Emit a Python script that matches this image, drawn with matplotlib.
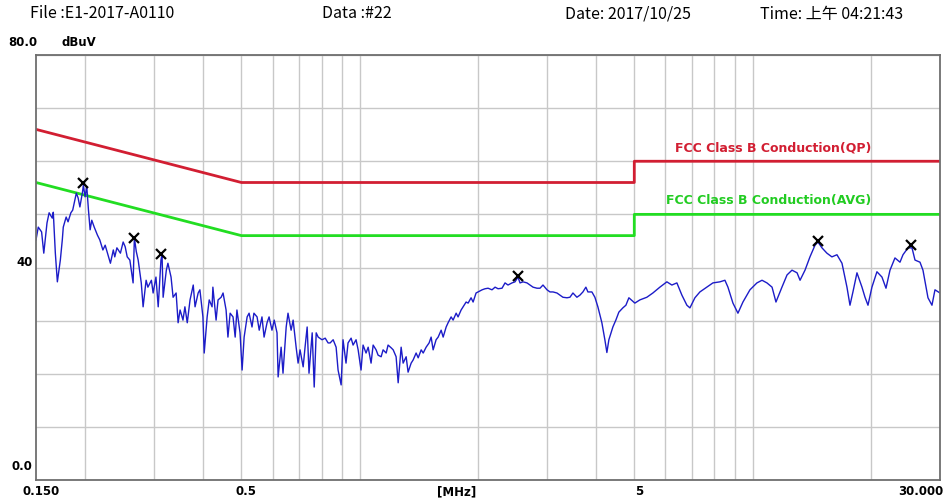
import matplotlib
matplotlib.use("Agg")
import matplotlib.pyplot as plt
import matplotlib.transforms as mtransforms

plt.rcParams['font.family'] = ['Liberation Sans Narrow', 'Noto Sans CJK TC', 'DejaVu Sans']

# measured trace (MHz, dBuV)
freq = [0.150, 0.152, 0.155, 0.157, 0.160, 0.162, 0.165, 0.166, 0.168, 0.170,
        0.173, 0.175, 0.176, 0.179, 0.181, 0.184, 0.186, 0.190, 0.192, 0.194,
        0.197, 0.198, 0.200, 0.202, 0.204, 0.206, 0.208, 0.211, 0.215, 0.218,
        0.222, 0.225, 0.228, 0.232, 0.236, 0.238, 0.241, 0.246, 0.250, 0.253,
        0.256, 0.260, 0.265, 0.267, 0.270, 0.273, 0.278, 0.281, 0.286, 0.289,
        0.295, 0.298, 0.303, 0.307, 0.312, 0.314, 0.316, 0.322, 0.325, 0.331,
        0.335, 0.341, 0.345, 0.349, 0.355, 0.359, 0.364, 0.370, 0.377, 0.381,
        0.388, 0.392, 0.399, 0.402, 0.409, 0.414, 0.421, 0.423, 0.431, 0.436,
        0.444, 0.449, 0.457, 0.462, 0.468, 0.476, 0.482, 0.487, 0.496, 0.502,
        0.508, 0.517, 0.523, 0.532, 0.538, 0.548, 0.555, 0.564, 0.571, 0.581,
        0.588, 0.598, 0.606, 0.616, 0.620, 0.631, 0.638, 0.650, 0.657, 0.669,
        0.677, 0.689, 0.697, 0.705, 0.718, 0.726, 0.735, 0.743, 0.757, 0.766,
        0.775, 0.784, 0.802, 0.817, 0.831,
        0.841, 0.856, 0.871, 0.881, 0.897, 0.907, 0.923, 0.934, 0.951, 0.962,
        0.979, 0.991, 1.008, 1.020, 1.038, 1.051, 1.069, 1.082, 1.101, 1.114,
        1.134, 1.147, 1.168, 1.181, 1.202, 1.217, 1.238, 1.253, 1.275, 1.290,
        1.313, 1.328, 1.352, 1.368, 1.392, 1.409, 1.434, 1.451, 1.476, 1.502,
        1.520, 1.538, 1.565, 1.584, 1.612, 1.631, 1.660, 1.679, 1.709, 1.729,
        1.760, 1.780, 1.812, 1.833, 1.866, 1.888, 1.921, 1.944, 1.978, 2.001,
        2.049, 2.085, 2.122, 2.172, 2.211, 2.250, 2.303, 2.344, 2.385, 2.442,
        2.485, 2.529, 2.559, 2.605, 2.666, 2.714, 2.762, 2.827, 2.877, 2.928,
        2.998, 3.051, 3.105, 3.178, 3.234, 3.291, 3.370, 3.429, 3.490, 3.572,
        3.636, 3.700, 3.765, 3.810, 3.900, 3.969, 4.039, 4.135, 4.208, 4.258,
        4.308, 4.410, 4.488, 4.568, 4.676, 4.760, 4.844,
        5.017, 5.166, 5.382, 5.575, 5.809, 6.052, 6.232, 6.418, 6.609, 6.805,
        6.927, 7.133, 7.345, 7.652, 7.927, 8.259, 8.505, 8.657, 8.914, 9.179,
        9.452, 9.849, 10.26, 10.57, 10.88, 11.21, 11.47, 11.88, 12.24, 12.60,
        12.98, 13.21, 13.60, 14.00, 14.42, 14.67, 15.02, 15.46, 15.92, 16.40,
        16.89, 17.39, 17.70, 18.01, 18.44, 18.99, 19.33, 19.67, 20.13, 20.73,
        21.35, 21.86, 22.38, 23.04, 23.73, 24.15, 24.87, 25.46, 25.91, 26.68,
        27.15, 27.96, 28.62, 29.13, 30.0]
level = [45.2, 47.6, 46.7, 42.7, 48.4, 50.3, 49.3, 50.4, 42.7, 37.3,
         41.4, 45.2, 47.6, 49.5, 48.6, 50.3, 50.8, 54.0, 53.1, 51.4,
         54.2, 55.5, 53.3, 55.2, 50.8, 47.1, 48.9, 47.6, 46.1, 45.2,
         43.3, 44.2, 42.7, 40.8, 43.3, 42.0, 43.7, 42.7, 44.8, 43.9,
         42.0, 41.4, 37.1, 45.6, 43.0, 41.4, 37.1, 32.6, 37.6, 36.3,
         37.6, 35.2, 38.2, 32.6, 41.4, 42.4, 34.4, 39.5, 40.8, 38.2,
         34.4, 35.2, 29.6, 32.0, 30.1, 32.6, 29.6, 33.9, 36.7, 32.6,
         35.2, 35.8, 30.7, 23.9, 30.7, 33.9, 32.6, 36.3, 30.1, 33.9,
         34.4, 35.2, 32.0, 26.9, 31.4, 30.7, 26.9, 32.0, 27.7, 20.7,
         26.9, 30.7, 31.4, 28.8, 31.4, 30.7, 28.2, 30.7, 26.9, 29.6,
         30.7, 28.2, 30.1, 27.7, 19.4, 25.0, 20.1, 28.8, 31.4, 28.2,
         30.1, 25.0, 22.0, 24.5, 21.3, 25.0, 28.8, 20.1, 27.7, 17.5,
         27.7, 26.9, 26.4, 26.7, 25.8,
         25.8, 26.4, 25.0, 20.7, 17.9, 26.4, 22.0, 25.8, 26.7, 25.4,
         26.4, 24.5, 20.7, 25.4, 23.9, 25.0, 22.0, 25.4, 24.5, 23.5,
         23.2, 24.5, 23.9, 25.4, 24.9, 24.5, 23.2, 18.3, 25.0, 22.0,
         23.2, 20.3, 22.0, 22.6, 23.9, 23.0, 24.5, 23.9, 25.0, 25.8,
         26.9, 24.5, 26.4, 26.9, 28.2, 26.9, 28.8, 29.6, 30.7, 30.1,
         31.4, 30.7, 32.0, 32.6, 33.5, 33.3, 34.3, 33.5, 35.2, 35.4,
         35.8, 36.0, 36.1, 35.8, 36.3, 36.0, 36.1, 37.1, 36.7, 37.1,
         37.3, 38.2, 37.1, 37.3, 37.1, 36.7, 36.3, 36.1, 36.1, 36.7,
         35.8, 35.4, 35.4, 35.2, 34.8, 34.4, 34.3, 34.4, 35.2, 34.4,
         34.8, 35.4, 36.3, 35.4, 35.4, 34.4, 32.6, 29.6, 26.4, 24.0,
         26.4, 28.8, 30.1, 31.6, 32.4, 32.9, 34.3,
         33.3, 33.9, 34.4, 35.2, 36.3, 37.3, 36.7, 37.1, 34.8, 32.9,
         32.4, 34.3, 35.4, 36.3, 37.1, 37.3, 37.6, 36.3, 33.3, 31.4,
         33.5, 35.8, 37.1, 37.6, 37.1, 36.3, 33.5, 36.3, 38.6, 39.5,
         39.0, 37.6, 39.5, 42.0, 44.2, 44.8, 43.7, 42.7, 42.0, 42.4,
         40.8, 36.3, 32.9, 35.4, 39.0, 36.3, 34.4, 32.9, 36.3, 39.2,
         38.2, 36.1, 39.5, 41.8, 41.0, 42.4, 43.7, 43.7, 41.4, 41.0,
         39.5, 34.3, 32.9, 35.8, 35.2]

# peak markers
peak_freq = [0.198, 0.267, 0.312, 2.53, 14.67, 25.3]
peak_level = [55.9, 45.6, 42.5, 38.4, 45.0, 44.2]

# FCC class B limits
limit_freq = [0.15, 0.5, 5, 5, 30]
qp_level = [66, 56, 56, 60, 60]
avg_level = [56, 46, 46, 50, 50]

grid_x = [0.2, 0.3, 0.4, 0.5, 0.6, 0.7, 0.8, 0.9, 1, 2, 3, 4, 5, 6, 7, 8, 9, 10, 20]
xtick_vals = [0.15, 0.5, 5]
xtick_text = ["0.150", "0.5", "5"]

fig = plt.figure(figsize=(9.45, 5.0), dpi=100)
ax = fig.add_axes([36 / 945, 20 / 500, 904 / 945, 425 / 500])
ax.set_xscale('log')
ax.set_xlim(0.15, 30)
ax.set_ylim(0, 80)

ax.set_xticks(grid_x)
ax.set_xticks([], minor=True)
ax.set_xticklabels([])
ax.set_yticks(range(0, 81, 10))
ax.set_yticklabels([])
ax.tick_params(length=0)
ax.grid(True, color='#c8c8c8', lw=1)
for s in ax.spines.values():
    s.set_color('#6e6e6e')
    s.set_linewidth(1.3)

ax.plot(limit_freq, qp_level, color='#d21e32', lw=2)
ax.plot(limit_freq, avg_level, color='#22dd22', lw=2)
ax.plot(freq, level, color='#1c1cc8', lw=1)
ax.plot(peak_freq, peak_level, 'x', color='black', ms=7, mew=1.6)

lab = dict(family='DejaVu Sans', fontweight='bold', fontsize=8.5)
fcc = dict(family='DejaVu Sans', fontweight='bold', fontsize=9)
ax.text(20.1, 61.3, "FCC Class B Conduction(QP)", color='#d21e32', ha='right', va='bottom', **fcc)
ax.text(20.1, 51.3, "FCC Class B Conduction(AVG)", color='#22cc22', ha='right', va='bottom', **fcc)

# axis labels drawn like the analyser printout
tr = ax.get_xaxis_transform()
for v, t in zip(xtick_vals, xtick_text):
    ax.text(v, -0.012, t, ha='center', va='top',
            transform=tr + mtransforms.ScaledTranslation(5 / 100, 0, fig.dpi_scale_trans), **lab)
fig.text(943 / 945, 20 / 500 - 0.012 * 425 / 500, "30.000", ha='right', va='top', **lab)
ax.text(1.76, -0.012, "[MHz]", ha='center', va='top', transform=tr, **lab)

ytr = ax.get_yaxis_transform()
ax.text(-0.004, 2.5, "0.0", ha='right', va='center', transform=ytr, **lab)
ax.text(-0.004, 41, "40", ha='right', va='center', transform=ytr, **lab)
fig.text(8 / 945, 1 - 43 / 500, "80.0", ha='left', va='center', **lab)
fig.text(62 / 945, 1 - 43 / 500, "dBuV", ha='left', va='center', **lab)

hy = 1 - 14 / 500
fig.text(30 / 945, hy, "File :E1-2017-A0110", fontsize=11.5, va='center')
fig.text(322 / 945, hy, "Data :#22", fontsize=11.5, va='center')
fig.text(565 / 945, hy, "Date: 2017/10/25", fontsize=11.5, va='center')
fig.text(760 / 945, hy, "Time: 上午 04:21:43", fontsize=11.5, va='center')

fig.savefig("out.png", dpi=100, facecolor='white')
